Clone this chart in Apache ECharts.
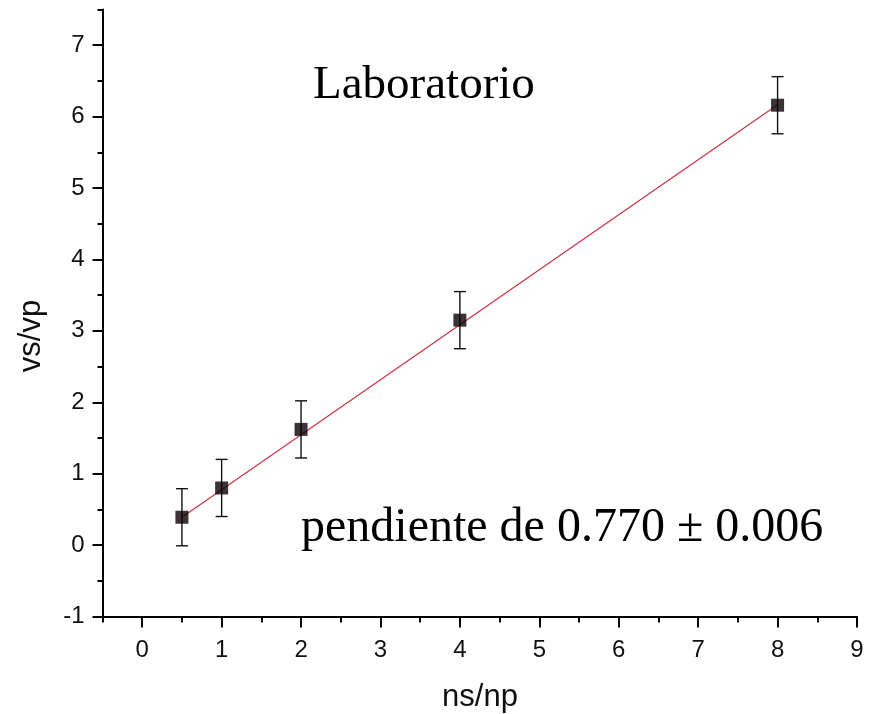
<!DOCTYPE html>
<html>
<head>
<meta charset="utf-8">
<title>Laboratorio</title>
<script src="https://cdn.jsdelivr.net/npm/echarts@6/dist/echarts.min.js"></script>
<style>
  html, body { margin: 0; padding: 0; background: #fff; }
  #chart { width: 872px; height: 714px; }
</style>
</head>
<body>
<div id="chart"></div>
<script>
// datos medidos
var nsNp = [0.5, 1, 2, 4, 8];
var vsVp = [0.39, 0.80, 1.62, 3.15, 6.16];
var vsVpErr = [0.40, 0.40, 0.40, 0.40, 0.40];

// recta de ajuste (extremos)
var fitX = [0.5, 8];
var fitY = [0.39, 6.165];

var chart = echarts.init(document.getElementById("chart"));

var axisFont = { fontFamily: "Liberation Sans", fontSize: 24, color: "#111" };
var nameFont = "31px 'Liberation Sans'";

var option = {
  backgroundColor: "#fff",
  animation: false,
  grid: { left: 102.5, right: 15, top: 9.5, bottom: 97.5 },
  xAxis: [
    {
      // eje principal, marcas en los enteros
      type: "value",
      min: -0.5,
      max: 9,
      splitNumber: 10,
      position: "bottom",
      axisLine: { show: true, onZero: false, lineStyle: { color: "#000", width: 2 } },
      axisTick: { show: true, length: 11, lineStyle: { color: "#000", width: 2 } },
      axisLabel: Object.assign({ margin: 22, showMinLabel: false }, axisFont),
      splitLine: { show: false }
    },
    {
      // marcas menores
      type: "value",
      min: -0.5,
      max: 9,
      interval: 0.5,
      position: "bottom",
      axisLine: { show: false, onZero: false },
      axisTick: { show: true, length: 6, lineStyle: { color: "#000", width: 2 } },
      axisLabel: { show: false },
      splitLine: { show: false }
    }
  ],
  yAxis: [
    {
      type: "value",
      min: -1,
      max: 7.5,
      splitNumber: 9,
      position: "left",
      axisLine: { show: true, onZero: false, lineStyle: { color: "#000", width: 2 } },
      axisTick: { show: true, length: 10, lineStyle: { color: "#000", width: 2 } },
      axisLabel: Object.assign({ margin: 18, showMaxLabel: false }, axisFont),
      splitLine: { show: false }
    },
    {
      type: "value",
      min: -1,
      max: 7.5,
      interval: 0.5,
      position: "left",
      axisLine: { show: false, onZero: false },
      axisTick: { show: true, length: 5, lineStyle: { color: "#000", width: 2 } },
      axisLabel: { show: false },
      splitLine: { show: false }
    }
  ],
  graphic: [
    {
      type: "text",
      left: 313,
      top: 62,
      style: { text: "Laboratorio", font: "47px 'Liberation Serif'", fill: "#000" }
    },
    {
      type: "text",
      left: 301,
      top: 504,
      style: { text: "pendiente de 0.770 \u00b1 0.006", font: "48px 'Liberation Serif'", fill: "#000" }
    },
    {
      type: "text",
      x: 480,
      y: 697,
      style: { text: "ns/np", font: nameFont, fill: "#111", align: "center", verticalAlign: "middle" }
    },
    {
      type: "text",
      x: 31,
      y: 336,
      rotation: Math.PI / 2,
      style: { text: "vs/vp", font: nameFont, fill: "#111", align: "center", verticalAlign: "middle" }
    }
  ],
  series: [
    {
      name: "ajuste",
      type: "line",
      xAxisIndex: 0,
      yAxisIndex: 0,
      data: fitX.map(function (x, i) { return [x, fitY[i]]; }),
      showSymbol: false,
      lineStyle: { color: "#cc3344", width: 1.2 },
      z: 2
    },
    {
      name: "error",
      type: "custom",
      xAxisIndex: 0,
      yAxisIndex: 0,
      data: nsNp.map(function (x, i) { return [x, vsVp[i] - vsVpErr[i], vsVp[i] + vsVpErr[i]]; }),
      renderItem: function (params, api) {
        var lo = api.coord([api.value(0), api.value(1)]);
        var hi = api.coord([api.value(0), api.value(2)]);
        var w = 6;
        var st = { stroke: "#111", lineWidth: 1.4 };
        return {
          type: "group",
          children: [
            { type: "line", shape: { x1: lo[0], y1: lo[1], x2: hi[0], y2: hi[1] }, style: st },
            { type: "line", shape: { x1: lo[0] - w, y1: lo[1], x2: lo[0] + w, y2: lo[1] }, style: st },
            { type: "line", shape: { x1: hi[0] - w, y1: hi[1], x2: hi[0] + w, y2: hi[1] }, style: st }
          ]
        };
      },
      z: 3
    },
    {
      name: "datos",
      type: "scatter",
      xAxisIndex: 0,
      yAxisIndex: 0,
      data: nsNp.map(function (x, i) { return [x, vsVp[i]]; }),
      symbol: "rect",
      symbolSize: 13,
      itemStyle: { color: "#0a0002" },
      z: 4
    }
  ]
};

chart.setOption(option);
</script>
</body>
</html>
